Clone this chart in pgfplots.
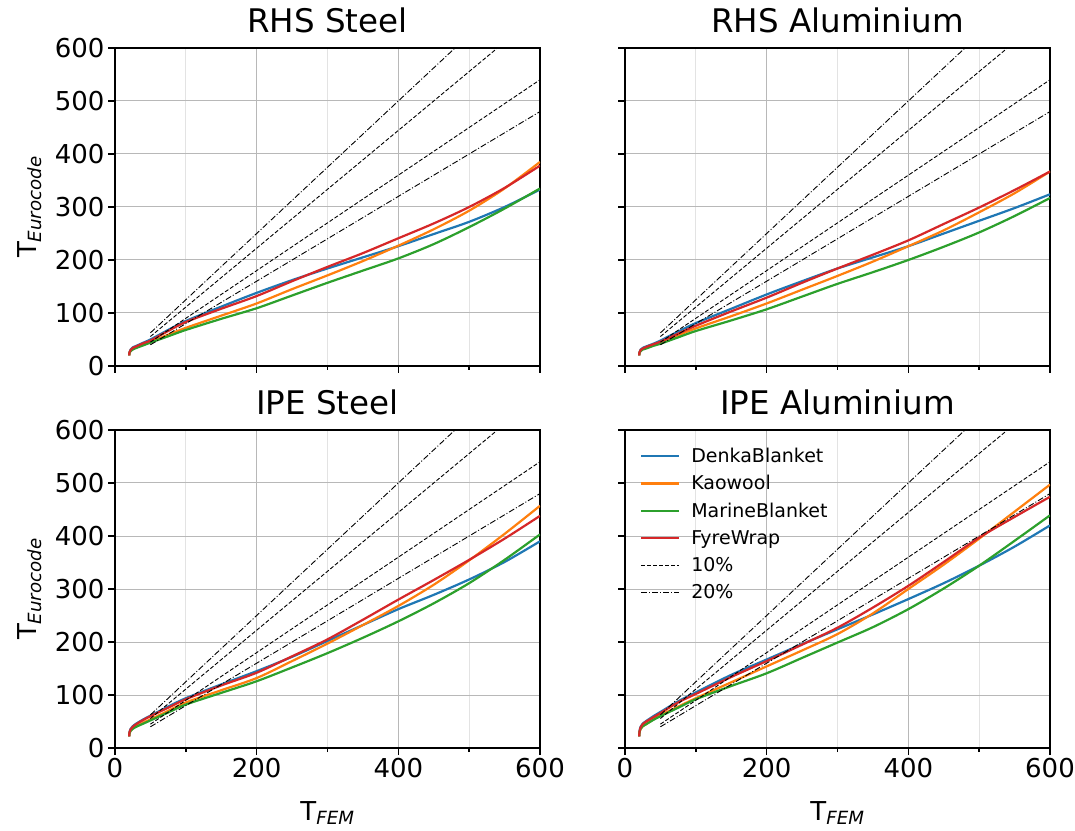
\documentclass[border=0pt]{standalone}
\usepackage{fontspec}
\setmainfont{DejaVu Sans}
\usepackage{pgfplots}
\pgfplotsset{compat=1.18}

\definecolor{c0}{HTML}{1F77B4}
\definecolor{c1}{HTML}{FF7F0E}
\definecolor{c2}{HTML}{2CA02C}
\definecolor{c3}{HTML}{D62728}

\pgfplotsset{
  panel/.style={
    scale only axis, width=425pt, height=318pt,
    xmin=0, xmax=600, ymin=0, ymax=600,
    xtick={0,200,400,600}, minor xtick={100,300,500},
    ytick={0,100,...,600},
    grid=both,
    major grid style={black!28, line width=1pt},
    minor grid style={black!11, line width=1pt},
    tick align=outside, tick pos=left,
    major tick length=7pt, minor tick length=4pt,
    every tick/.style={black, line width=1.6pt},
    axis line style={line width=1.6pt},
    /pgf/number format/assume math mode=true,
    ticklabel style={font=\fontsize{26}{30}\selectfont},
    title style={font=\fontsize{32.5}{36}\selectfont, at={(0.5,1)}, anchor=base, inner sep=0pt, yshift=9pt},
    xlabel style={font=\fontsize{26}{30}\selectfont, at={(axis description cs:0.5,0)}, anchor=north, inner sep=0pt, yshift=-53pt},
    ylabel style={font=\fontsize{26}{30}\selectfont, at={(axis description cs:-0.2,0.5)}, anchor=center, inner sep=0pt},
    every axis plot/.append style={line join=round},
  },
  cur/.style={line width=2.2pt, smooth, tension=0.5},
  ten/.style={black, line width=0.9pt, dash pattern=on 4pt off 2pt},
  twenty/.style={black, line width=0.9pt, dash pattern=on 6pt off 2pt on 1pt off 2pt},
}
% reference bands: y = x/0.9, 0.9x (10%) and y = x/0.8, 0.8x (20%)
\newcommand\refl{%
  \addplot[ten] coordinates {(50,55.6)(600,666.7)};
  \addplot[ten] coordinates {(50,45)(600,540)};
  \addplot[twenty] coordinates {(50,62.5)(600,750)};
  \addplot[twenty] coordinates {(50,40)(600,480)};
}

\begin{document}
\begin{tikzpicture}
% RHS Steel
\begin{axis}[panel, at={(115pt,464pt)}, anchor=south west, title={RHS Steel},
  xticklabels={}, ylabel={T\textsubscript{\itshape Eurocode}}]
\addplot[cur,c0] coordinates {(20,20)(20.5,26)(22,31)(25,35)(30,38)(40,44)(50,50)(75,68)(100,85)(150,112)(200,138)(250,162)(300,184)(350,205)(400,226)(450,249)(500,272)(550,300)(600,333)};
\addplot[cur,c1] coordinates {(20,20)(20.5,25)(22,29)(25,32)(30,35)(40,40)(50,45)(75,59)(100,72)(150,95)(200,118)(250,145)(300,171)(350,198)(400,227)(450,258)(500,293)(550,335)(600,385)};
\addplot[cur,c2] coordinates {(20,20)(20.5,25)(22,28)(25,31)(30,34)(40,39)(50,44)(75,56)(100,68)(150,89)(200,109)(250,133)(300,157)(350,180)(400,203)(450,230)(500,262)(550,297)(600,335)};
\addplot[cur,c3] coordinates {(20,20)(20.5,26)(22,30)(25,34)(30,37)(40,43)(50,48)(75,66)(100,83)(150,108)(200,132)(250,160)(300,187)(350,213)(400,241)(450,269)(500,300)(550,336)(600,378)};
\refl
\end{axis}
% RHS Aluminium
\begin{axis}[panel, at={(625pt,464pt)}, anchor=south west, title={RHS Aluminium},
  xticklabels={}, yticklabels={}]
\addplot[cur,c0] coordinates {(20,20)(20.5,26)(22,31)(25,34)(30,37)(40,42)(50,48)(75,65)(100,81)(150,108)(200,135)(250,160)(300,184)(350,205)(400,226)(450,250)(500,274)(550,298)(600,324)};
\addplot[cur,c1] coordinates {(20,20)(20.5,25)(22,29)(25,32)(30,34)(40,39)(50,44)(75,58)(100,71)(150,94)(200,118)(250,144)(300,170)(350,197)(400,226)(450,256)(500,290)(550,326)(600,367)};
\addplot[cur,c2] coordinates {(20,20)(20.5,25)(22,28)(25,31)(30,33)(40,38)(50,42)(75,54)(100,66)(150,86)(200,107)(250,131)(300,155)(350,177)(400,200)(450,225)(500,252)(550,283)(600,317)};
\addplot[cur,c3] coordinates {(20,20)(20.5,26)(22,30)(25,33)(30,36)(40,41)(50,46)(75,61)(100,76)(150,103)(200,129)(250,157)(300,184)(350,210)(400,237)(450,268)(500,299)(550,332)(600,367)};
\refl
\end{axis}
% IPE Steel
\begin{axis}[panel, at={(115pt,82pt)}, anchor=south west, title={IPE Steel},
  xlabel={T\textsubscript{\itshape FEM}}, ylabel={T\textsubscript{\itshape Eurocode}}]
\addplot[cur,c0] coordinates {(20,22)(20.5,30)(22,36)(25,41)(30,46)(40,54)(50,61)(75,78)(100,94)(150,120)(200,145)(250,172)(300,202)(350,232)(400,262)(450,289)(500,318)(550,351)(600,390)};
\addplot[cur,c1] coordinates {(20,22)(20.5,28)(22,33)(25,37)(30,41)(40,48)(50,54)(75,70)(100,86)(150,109)(200,132)(250,164)(300,197)(350,232)(400,268)(450,308)(500,354)(550,404)(600,457)};
\addplot[cur,c2] coordinates {(20,22)(20.5,28)(22,32)(25,36)(30,40)(40,46)(50,52)(75,67)(100,82)(150,104)(200,126)(250,152)(300,179)(350,208)(400,239)(450,273)(500,311)(550,355)(600,403)};
\addplot[cur,c3] coordinates {(20,22)(20.5,30)(22,35)(25,40)(30,45)(40,53)(50,60)(75,76)(100,92)(150,118)(200,142)(250,173)(300,205)(350,242)(400,280)(450,317)(500,355)(550,395)(600,438)};
\refl
\end{axis}
% IPE Aluminium
\begin{axis}[panel, at={(625pt,82pt)}, anchor=south west, title={IPE Aluminium},
  xlabel={T\textsubscript{\itshape FEM}}, yticklabels={},
  legend style={draw=none, fill=none, at={(axis description cs:0.035,0.95)}, anchor=north west,
    font=\fontsize{19}{22}\selectfont, row sep=7.5pt, inner sep=0pt},
  legend cell align=left,
  legend image code/.code={\draw[#1] (0pt,0pt) -- (38pt,0pt); \path (47pt,0pt);}]
\addplot[cur,c0] coordinates {(20,22)(20.5,32)(22,40)(25,46)(30,51)(40,60)(50,68)(75,88)(100,105)(150,138)(200,167)(250,196)(300,224)(350,252)(400,281)(450,311)(500,344)(550,380)(600,420)};
\addlegendentry{DenkaBlanket}
\addplot[cur,c1] coordinates {(20,22)(20.5,30)(22,36)(25,41)(30,45)(40,54)(50,62)(75,78)(100,94)(150,124)(200,154)(250,184)(300,215)(350,254)(400,300)(450,346)(500,395)(550,446)(600,497)};
\addlegendentry{Kaowool}
\addplot[cur,c2] coordinates {(20,22)(20.5,30)(22,36)(25,41)(30,45)(40,53)(50,60)(75,76)(100,92)(150,117)(200,141)(250,170)(300,199)(350,228)(400,262)(450,301)(500,344)(550,391)(600,439)};
\addlegendentry{MarineBlanket}
\addplot[cur,c3] coordinates {(20,22)(20.5,31)(22,39)(25,45)(30,50)(40,58)(50,66)(75,86)(100,102)(150,134)(200,164)(250,195)(300,227)(350,265)(400,306)(450,351)(500,397)(550,436)(600,474)};
\addlegendentry{FyreWrap}
\addplot[ten] coordinates {(50,55.6)(600,666.7)};
\addlegendentry{10\%}
\addplot[ten, forget plot] coordinates {(50,45)(600,540)};
\addplot[twenty] coordinates {(50,62.5)(600,750)};
\addlegendentry{20\%}
\addplot[twenty, forget plot] coordinates {(50,40)(600,480)};
\end{axis}
\pgfresetboundingbox
\path[use as bounding box] (0,0) rectangle (1075pt,830pt);
\end{tikzpicture}
\end{document}
